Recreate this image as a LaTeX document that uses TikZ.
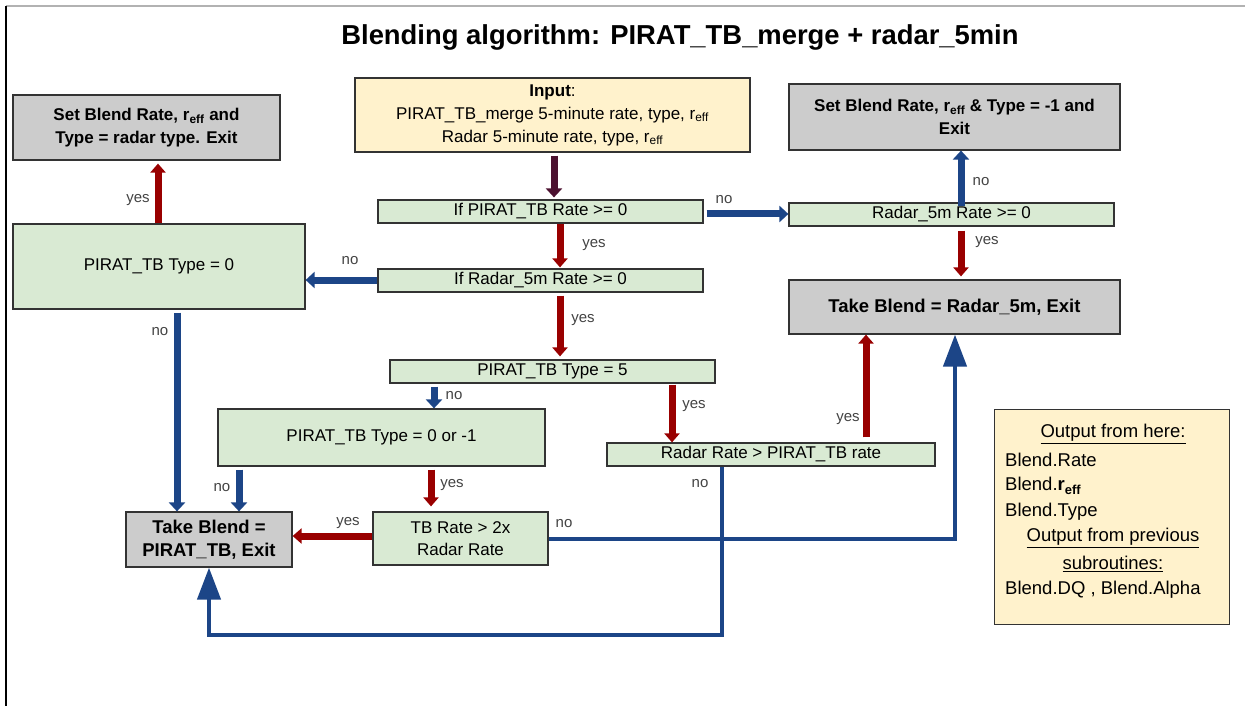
\documentclass[tikz,border=0pt]{standalone}
\usepackage{fontspec}
\setmainfont{Liberation Sans}
\usetikzlibrary{arrows.meta}
\definecolor{gfill}{HTML}{D9EAD3}
\definecolor{yfill}{HTML}{FFF2CC}
\definecolor{kfill}{HTML}{CCCCCC}
\definecolor{bord}{HTML}{333333}
\definecolor{yesc}{HTML}{990000}
\definecolor{noc}{HTML}{1C4587}
\definecolor{inc}{HTML}{4C1130}
\definecolor{lblc}{HTML}{434343}
\tikzset{
  box/.style={draw=bord, line width=1.2pt, inner sep=0pt, align=center, rectangle},
  gbox/.style={box, fill=gfill, font=\fontsize{17}{22}\selectfont},
  ybox/.style={box, fill=yfill, font=\fontsize{17}{23}\selectfont},
  kbox/.style={box, fill=kfill, font=\fontsize{17}{23}\selectfont\bfseries},
  kbigbox/.style={box, fill=kfill, font=\fontsize{18.5}{23}\selectfont\bfseries},
  lbl/.style={text=lblc, font=\fontsize{15}{18}\selectfont, inner sep=0pt},
  otxt/.style={font=\fontsize{18.5}{22}\selectfont, inner sep=0pt},
  inarr/.style={draw=inc, line width=7pt, -{Triangle[width=16pt,length=9pt]}},
  yesarr/.style={draw=yesc, line width=7pt, -{Triangle[width=15pt,length=9pt]}},
  noarr/.style={draw=noc, line width=7pt, -{Triangle[width=16pt,length=9pt]}},
  routearr/.style={draw=noc, line width=4.3pt, -{Triangle[width=23pt,length=32pt]}},
}
\begin{document}
\begin{tikzpicture}[x=1pt,y=-1pt]
\useasboundingbox (0,0) rectangle (1254,706);
\fill[white] (0,0) rectangle (1254,706);
% frame
\draw[draw=black!30, line width=1.5pt] (6,6) -- (1245,6);
\draw[draw=black, line width=1.5pt] (6,6) -- (6,706);

\node[font=\fontsize{27.4}{32}\selectfont\bfseries, anchor=base, inner sep=0pt] (title) at (680,45) {Blending algorithm: PIRAT\_TB\_merge + radar\_5min};

% boxes
\node[kbox, minimum width=267pt, minimum height=65pt] (setA) at (146.5,127.5) {Set Blend Rate, r\textsubscript{eff} and\\Type = radar type. Exit};
\node[ybox, minimum width=395pt, minimum height=74pt] (input) at (552.5,115) {\textbf{Input}:\\PIRAT\_TB\_merge 5-minute rate, type, r\textsubscript{eff}\\Radar 5-minute rate, type, r\textsubscript{eff}};
\node[kbox, minimum width=331pt, minimum height=66pt] (setm) at (954.5,117) {Set Blend Rate, r\textsubscript{eff} \& Type = -1 and\\Exit};
\node[gbox, minimum width=325pt, minimum height=23pt] (ifp) at (540.5,211.5) {If PIRAT\_TB Rate >= 0};
\node[gbox, minimum width=325pt, minimum height=23pt] (rfive) at (951.5,214.5) {Radar\_5m Rate >= 0};
\node[gbox, minimum width=292pt, minimum height=85pt] (pzero) at (159,266.5) {PIRAT\_TB Type = 0};
\node[gbox, minimum width=325pt, minimum height=23pt] (ifr) at (540.5,280.5) {If Radar\_5m Rate >= 0};
\node[kbigbox, minimum width=331pt, minimum height=54pt] (takeR) at (954.5,307) {Take Blend = Radar\_5m, Exit};
\node[gbox, minimum width=325pt, minimum height=23pt] (pfive) at (552.5,371.5) {PIRAT\_TB Type = 5};
\node[gbox, minimum width=327pt, minimum height=57pt] (pzm) at (381.5,437.5) {PIRAT\_TB Type = 0 or -1};
\node[gbox, minimum width=328pt, minimum height=23pt] (rr) at (771,454.5) {Radar Rate > PIRAT\_TB rate};
\node[gbox, minimum width=175pt, minimum height=53pt] (tbr) at (460.5,538.5) {TB Rate > 2x\\Radar Rate};
\node[kbigbox, minimum width=166pt, minimum height=55pt] (takeTB) at (209,539.5) {Take Blend =\\PIRAT\_TB, Exit};
\node[box, fill=yfill, minimum width=235pt, minimum height=215pt] (out) at (1112,517) {};

% output texts
\node[otxt] (o1) at (1113,434) {\underline{Output from here:}};
\node[otxt, anchor=west] (o2) at (1005,460) {Blend.Rate};
\node[otxt, anchor=west] (o3) at (1005,486) {Blend.\textbf{r}\textsubscript{\textbf{eff}}};
\node[otxt, anchor=west] (o4) at (1005,512) {Blend.Type};
\node[otxt] (o5) at (1113,538) {\underline{Output from previous}};
\node[otxt] (o6) at (1113,564) {\underline{subroutines:}};
\node[otxt, anchor=west] (o7) at (1005,590) {Blend.DQ , Blend.Alpha};

% helper coordinates
\coordinate (xIn) at (554,0);
\coordinate (xA) at (560,0);
\coordinate (xR) at (961,0);
\coordinate (xSetA) at (158,0);
\coordinate (xPz) at (177,0);
\coordinate (xNo5) at (434,0);
\coordinate (xYes5) at (672,0);
\coordinate (xPzmNo) at (239,0);
\coordinate (xPzmYes) at (431,0);
\coordinate (xRRyes) at (866,0);
\coordinate (xRRno) at (722,0);
\coordinate (xTR) at (955,0);
\coordinate (yIfp) at (0,214);
\coordinate (yIfr) at (0,280);
\coordinate (yTb) at (0,536);
\coordinate (yTbNo) at (0,539);
\coordinate (yBot) at (0,635);

% connectors
\draw[inarr, shorten <=3pt, shorten >=2pt] (input.south -| xIn) -- (ifp.north -| xIn);
\draw[yesarr, shorten >=1pt] (ifp.south -| xA) -- (ifr.north -| xA);
\draw[noarr, shorten <=3pt] (ifp.east |- yIfp) -- (rfive.west |- yIfp);
\draw[noarr, shorten <=-4pt] (rfive.north -| xR) -- (setm.south -| xR);
\draw[yesarr, shorten <=4pt, shorten >=3pt] (rfive.south -| xR) -- (takeR.north -| xR);
\draw[noarr] (ifr.west |- yIfr) -- (pzero.east |- yIfr);
\draw[yesarr, shorten >=3pt] (pzero.north -| xSetA) -- (setA.south -| xSetA);
\draw[noarr, shorten <=3pt] (pzero.south -| xPz) -- (takeTB.north -| xPz);
\draw[yesarr, shorten <=3pt, shorten >=3pt] (ifr.south -| xA) -- (pfive.north -| xA);
\draw[noarr, shorten <=3pt] (pfive.south -| xNo5) -- (pzm.north -| xNo5);
\draw[yesarr, shorten <=1pt] (pfive.south -| xYes5) -- (rr.north -| xYes5);
\draw[noarr, shorten <=3pt] (pzm.south -| xPzmNo) -- (takeTB.north -| xPzmNo);
\draw[yesarr, shorten <=3pt, shorten >=5pt] (pzm.south -| xPzmYes) -- (tbr.north -| xPzmYes);
\draw[yesarr] (tbr.west |- yTb) -- (takeTB.east |- yTb);
\draw[routearr] (tbr.east |- yTbNo) -| (takeR.south -| xTR);
\draw[yesarr, shorten <=5pt] (rr.north -| xRRyes) -- (takeR.south -| xRRyes);
\draw[routearr] (rr.south -| xRRno) -- (xRRno |- yBot) -| (takeTB.south);

% labels
\node[lbl] (l1) at (594,245) {yes};
\node[lbl] (l2) at (724,200) {no};
\node[lbl] (l3) at (350,261) {no};
\node[lbl] (l4) at (981,182) {no};
\node[lbl] (l5) at (987,242) {yes};
\node[lbl] (l6) at (138,200) {yes};
\node[lbl] (l7) at (160,332) {no};
\node[lbl] (l8) at (583,320) {yes};
\node[lbl] (l9) at (454,396) {no};
\node[lbl] (l10) at (694,406) {yes};
\node[lbl] (l11) at (222,488) {no};
\node[lbl] (l12) at (452,485) {yes};
\node[lbl] (l13) at (348,523) {yes};
\node[lbl] (l14) at (564,524) {no};
\node[lbl] (l15) at (700,484) {no};
\node[lbl] (l16) at (848,419) {yes};
\end{tikzpicture}
\end{document}
